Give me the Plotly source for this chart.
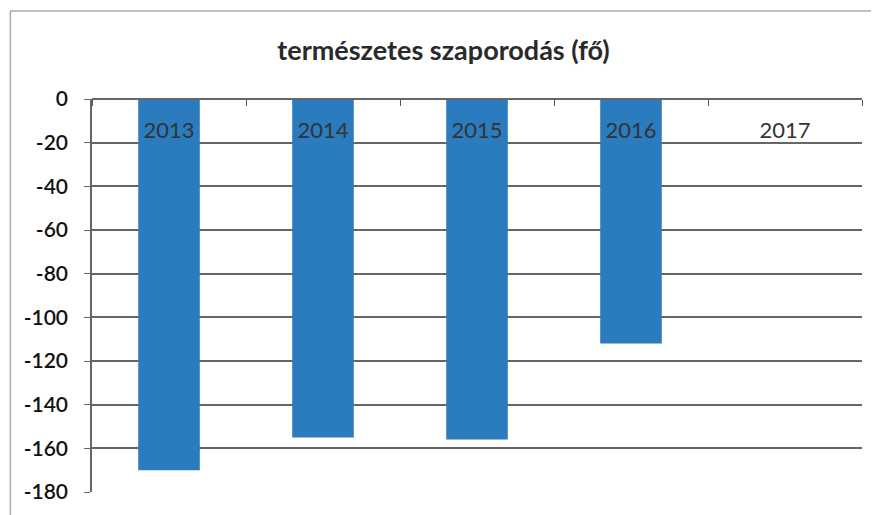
import plotly.graph_objects as go

years = ["2013", "2014", "2015", "2016", "2017"]
values = [-170, -155, -156, -112, None]
title_text = "természetes szaporodás (fő)"
y_ticks = [0, -20, -40, -60, -80, -100, -120, -140, -160, -180]
y_tick_labels = ["0", "-20", "-40", "-60", "-80", "-100", "-120", "-140", "-160", "-180"]

fig = go.Figure(go.Bar(x=years, y=values, marker_color="#2B7BBF", marker_line_width=0))

fig.update_layout(
    width=871, height=507,
    margin=dict(l=84, r=17, t=91, b=23, autoexpand=False),
    paper_bgcolor="white", plot_bgcolor="white",
    bargap=0.6,
    showlegend=False,
    font=dict(family="Lato, Open Sans, sans-serif", color="#222"),
    title=dict(text="<b>" + title_text + "</b>", x=0.5, xanchor="center", y=0.917, yanchor="middle",
               font=dict(size=27, color="#2a2a2a", family="Lato, Open Sans, sans-serif")),
    shapes=[
        dict(type="line", xref="paper", yref="paper", x0=-0.106, x1=-0.106, y0=-0.3, y1=1.224,
             line=dict(color="#aaaaaa", width=1.5), layer="below"),
        dict(type="line", xref="paper", yref="paper", x0=-0.106, x1=1.5, y0=1.224, y1=1.224,
             line=dict(color="#aaaaaa", width=1.5), layer="below"),
    ],
)
fig.update_xaxes(anchor="free", position=1, side="bottom", ticks="outside", tickson="boundaries",
                 ticklen=6, tickcolor="#555", showline=True, linecolor="#666", linewidth=1.5,
                 showgrid=False, tickfont=dict(size=22, color="#333"), ticklabelstandoff=12,
                 automargin=False)
fig.update_yaxes(range=[-180, 0], tickvals=y_ticks, ticktext=y_tick_labels, ticks="outside",
                 ticklen=6, tickcolor="#666", showline=True, linecolor="#666", linewidth=1.5,
                 showgrid=True, gridcolor="#666", gridwidth=1.5, zeroline=False,
                 tickfont=dict(size=21, color="#111", weight=600), ticklabelstandoff=12,
                 automargin=False)

fig.write_html("out.html")
